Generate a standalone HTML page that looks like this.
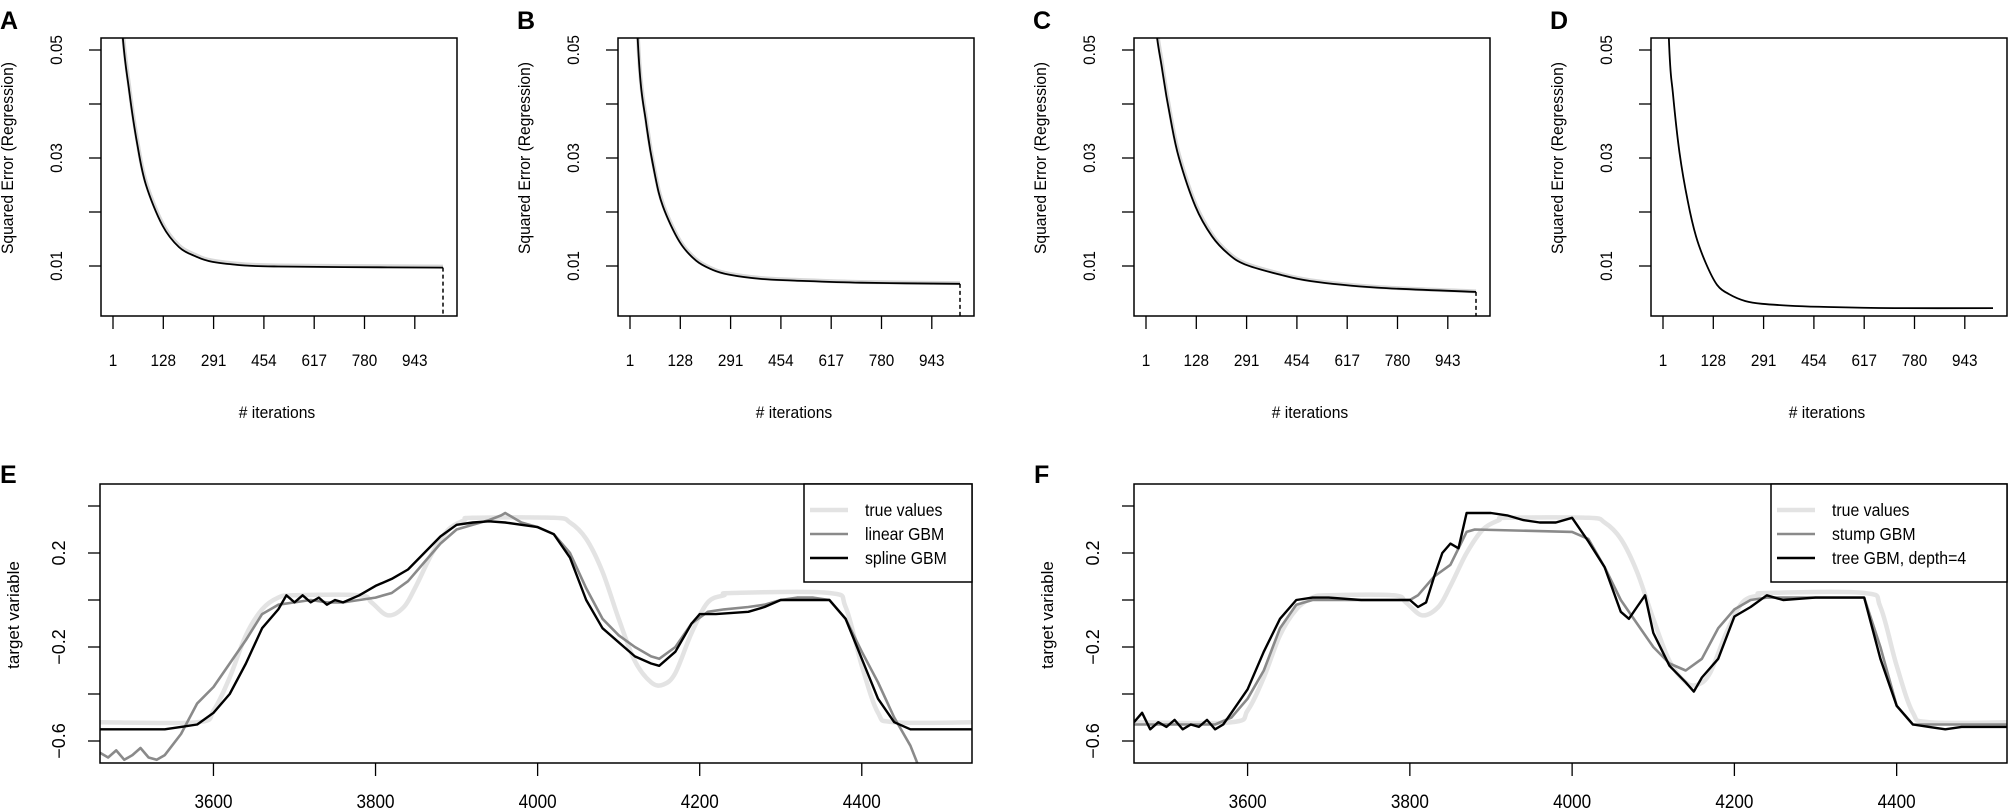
<!DOCTYPE html>
<html><head><meta charset="utf-8">
<style>
html,body{margin:0;padding:0;background:#fff;}
svg{display:block;font-family:"Liberation Sans",sans-serif;}
.tk{font-size:17px;fill:#000;}
</style></head>
<body>
<svg id="fig" width="2009" height="810" viewBox="0 0 2009 810" xmlns="http://www.w3.org/2000/svg"></svg>
<script>
// ---------- Panel A-D data (iterations vs squared error) ----------
const iterA = [0, 25, 50, 75, 100, 150, 200, 250, 300, 400, 500, 700, 1000];
const errA  = [0.09, 0.056, 0.042, 0.032, 0.025, 0.0175, 0.0135, 0.0118, 0.0108, 0.0101, 0.0099, 0.0098, 0.0097];
const iterB = [0, 25, 50, 75, 100, 150, 200, 250, 300, 400, 500, 700, 1000];
const errB  = [0.09, 0.05, 0.036, 0.027, 0.021, 0.0145, 0.011, 0.0093, 0.0084, 0.0076, 0.0073, 0.0069, 0.0067];
const iterC = [0, 25, 50, 75, 100, 150, 200, 250, 300, 400, 500, 700, 1000];
const errC  = [0.09, 0.058, 0.046, 0.037, 0.030, 0.021, 0.0155, 0.0122, 0.0103, 0.0085, 0.0072, 0.006, 0.0052];
const iterD = [0, 18, 30, 50, 75, 100, 130, 164, 200, 250, 300, 400, 500, 700, 1000];
const errD  = [0.09, 0.052, 0.042, 0.031, 0.022, 0.0155, 0.0105, 0.0065, 0.0048, 0.0035, 0.003, 0.0026, 0.0024, 0.0022, 0.0022];
const iterTickLabels = ["1", "128", "291", "454", "617", "780", "943"];
const errTicks = [0.01, 0.02, 0.03, 0.04, 0.05];
const errTickLabels = ["0.01", "", "0.03", "", "0.05"];

// ---------- Panel E/F data ----------
const trueX = [3460,3580,3600,3620,3640,3660,3680,3700,3780,3795,3815,3835,3850,3870,3890,3910,3920,4020,4040,4060,4080,4100,4120,4140,4155,4170,4190,4210,4230,4240,4360,4380,4400,4420,4440,4540];
const trueY = [-0.52,-0.52,-0.47,-0.33,-0.15,-0.04,0.01,0.02,0.02,-0.01,-0.065,-0.03,0.06,0.2,0.3,0.34,0.35,0.35,0.33,0.26,0.12,-0.08,-0.26,-0.35,-0.36,-0.31,-0.14,-0.01,0.02,0.03,0.03,-0.03,-0.28,-0.48,-0.52,-0.52];
const linX = [3460,3470,3480,3490,3500,3510,3520,3530,3540,3560,3580,3600,3620,3640,3660,3680,3700,3720,3740,3760,3780,3800,3820,3840,3860,3880,3900,3920,3940,3955,3960,3980,4000,4020,4040,4060,4080,4100,4120,4140,4150,4170,4190,4210,4230,4260,4280,4300,4320,4340,4360,4380,4400,4420,4440,4460,4475];
const linY = [-0.65,-0.67,-0.64,-0.68,-0.66,-0.63,-0.67,-0.68,-0.66,-0.57,-0.44,-0.37,-0.27,-0.17,-0.06,-0.02,-0.01,0.0,-0.01,-0.01,0.0,0.01,0.03,0.08,0.16,0.24,0.30,0.32,0.34,0.36,0.37,0.33,0.31,0.28,0.20,0.05,-0.08,-0.15,-0.20,-0.24,-0.25,-0.20,-0.10,-0.05,-0.04,-0.03,-0.02,0.0,0.01,0.01,0.0,-0.08,-0.22,-0.35,-0.5,-0.62,-0.75];
const splX = [3460,3500,3540,3560,3580,3600,3620,3640,3660,3680,3690,3700,3710,3720,3730,3740,3750,3760,3780,3800,3820,3840,3860,3880,3900,3920,3940,3960,3980,4000,4020,4040,4060,4080,4100,4120,4140,4150,4170,4190,4200,4220,4260,4280,4300,4320,4360,4380,4400,4420,4440,4460,4540];
const splY = [-0.55,-0.55,-0.55,-0.54,-0.53,-0.48,-0.40,-0.27,-0.12,-0.04,0.02,-0.01,0.02,-0.01,0.01,-0.02,0.0,-0.01,0.02,0.06,0.09,0.13,0.20,0.27,0.32,0.33,0.335,0.33,0.32,0.31,0.28,0.18,0.0,-0.12,-0.18,-0.24,-0.27,-0.28,-0.22,-0.10,-0.06,-0.06,-0.05,-0.03,0.0,0.0,0.0,-0.08,-0.25,-0.42,-0.52,-0.55,-0.55];
const stumpX = [3460,3560,3580,3600,3620,3640,3660,3680,3800,3810,3830,3850,3870,3880,4000,4020,4040,4060,4080,4100,4120,4140,4160,4180,4200,4220,4240,4360,4380,4400,4420,4540];
const stumpY = [-0.53,-0.53,-0.50,-0.42,-0.30,-0.12,-0.02,0.0,0.0,0.02,0.10,0.15,0.29,0.30,0.29,0.26,0.14,0.0,-0.10,-0.20,-0.27,-0.30,-0.25,-0.12,-0.04,0.0,0.01,0.01,-0.2,-0.45,-0.53,-0.53];
const treeX = [3460,3470,3480,3490,3500,3510,3520,3530,3540,3550,3560,3570,3580,3600,3620,3640,3660,3680,3700,3740,3780,3800,3810,3820,3830,3840,3850,3860,3870,3880,3900,3920,3940,3960,3980,4000,4020,4040,4060,4070,4080,4090,4100,4120,4140,4150,4160,4180,4200,4220,4240,4260,4300,4360,4380,4400,4420,4440,4460,4480,4540];
const treeY = [-0.52,-0.48,-0.55,-0.52,-0.54,-0.51,-0.55,-0.53,-0.54,-0.51,-0.55,-0.53,-0.48,-0.38,-0.22,-0.08,0.0,0.01,0.01,0.0,0.0,0.0,-0.03,-0.01,0.1,0.20,0.24,0.22,0.37,0.37,0.37,0.36,0.34,0.33,0.33,0.35,0.25,0.14,-0.05,-0.08,-0.03,0.02,-0.14,-0.28,-0.35,-0.39,-0.33,-0.25,-0.07,-0.03,0.02,0.0,0.01,0.01,-0.25,-0.45,-0.53,-0.54,-0.55,-0.54,-0.54];
const tvTicks = [-0.6, -0.4, -0.2, 0, 0.2, 0.4];
const tvTickLabels = ["\u22120.6", "", "\u22120.2", "", "0.2", ""];
const posTicks = [3600, 3800, 4000, 4200, 4400];

const NS = "http://www.w3.org/2000/svg";
const svg = document.getElementById("fig");
function mk(tag, attrs, parent) {
  const e = document.createElementNS(NS, tag);
  for (const k in attrs) e.setAttribute(k, attrs[k]);
  (parent || svg).appendChild(e);
  return e;
}
function pathFrom(xs, ys, sx, sy) {
  let d = "";
  for (let i = 0; i < xs.length; i++) d += (i ? "L" : "M") + sx(xs[i]).toFixed(1) + "," + sy(ys[i]).toFixed(1);
  return d;
}
// monotone-ish smooth curve (Catmull-Rom with clamped tangents)
function smoothFrom(xs, ys, sx, sy) {
  const P = xs.map((x, i) => [sx(x), sy(ys[i])]);
  let d = "M" + P[0][0].toFixed(1) + "," + P[0][1].toFixed(1);
  for (let i = 0; i < P.length - 1; i++) {
    const p0 = P[Math.max(0, i - 1)], p1 = P[i], p2 = P[i + 1], p3 = P[Math.min(P.length - 1, i + 2)];
    const c1 = [p1[0] + (p2[0] - p0[0]) / 6, p1[1] + (p2[1] - p0[1]) / 6];
    const c2 = [p2[0] - (p3[0] - p1[0]) / 6, p2[1] - (p3[1] - p1[1]) / 6];
    d += "C" + c1[0].toFixed(1) + "," + c1[1].toFixed(1) + " " + c2[0].toFixed(1) + "," + c2[1].toFixed(1) + " " + p2[0].toFixed(1) + "," + p2[1].toFixed(1);
  }
  return d;
}

// ---------- Error panels ----------
const errPanels = [
  {letter:"A", left:101, it:iterA, er:errA, dashed:true, ghost:true},
  {letter:"B", left:618, it:iterB, er:errB, dashed:true, ghost:true},
  {letter:"C", left:1134, it:iterC, er:errC, dashed:true, ghost:true},
  {letter:"D", left:1651, it:iterD, er:errD, dashed:false, ghost:false}
];
errPanels.forEach((p, pi) => {
  const L = p.left, R = L + 356, T = 38, B = 316;
  const g = mk("g", {});
  
  
  const sx = i => L + 12 + i * 0.33;
  const sy = v => 266 - (v - 0.01) * 5400;
  const cid = "clip" + p.letter;
  const cp = mk("clipPath", {id: cid}, g);
  mk("rect", {x: L, y: T, width: R - L, height: B - T}, cp);
  const lt = mk("text", {x: L - 101, y: 29, "font-size": 25, "font-weight": "bold"}, g);
  lt.textContent = p.letter;
  
  
  if (p.ghost) {
    const gh = mk("path", {d: smoothFrom(p.it, p.er.map(v => v * 1.02), sx, sy), fill: "none", stroke: "#d8d8d8", "stroke-width": 4, "clip-path": "url(#" + cid + ")"}, g);
    
    
  }
  const ln = mk("path", {d: smoothFrom(p.it, p.er, sx, sy), fill: "none", stroke: "#000", "stroke-width": 1.8, "clip-path": "url(#" + cid + ")"}, g);
  
  
  if (p.dashed) {
    const last = p.it.length - 1;
    const dl = mk("line", {x1: sx(p.it[last]), x2: sx(p.it[last]), y1: sy(p.er[last]), y2: B, stroke: "#000", "stroke-width": 1.5, "stroke-dasharray": "4,3"}, g);
    
    
  }
  const box = mk("rect", {x: L, y: T, width: R - L, height: B - T, fill: "none", stroke: "#000", "stroke-width": 1.5}, g);
  
  
  errTicks.forEach((v, i) => {
    const y = sy(v);
    mk("line", {x1: L - 12, x2: L, y1: y, y2: y, stroke: "#000", "stroke-width": 1.3}, g);
    if (errTickLabels[i]) {
      const t = mk("text", {class: "tk", "text-anchor": "middle", transform: "translate(" + (L - 39) + "," + y + ") rotate(-90) scale(0.9,1)"}, g);
      t.textContent = errTickLabels[i];
      
      
    }
  });
  iterTickLabels.forEach((lab, k) => {
    const x = L + 12 + k * 50.3;
    mk("line", {x1: x, x2: x, y1: B, y2: B + 13, stroke: "#000", "stroke-width": 1.3}, g);
    const t = mk("text", {class: "tk", "text-anchor": "middle", transform: "translate(" + x + ",366) scale(0.9,1)"}, g);
    t.textContent = lab;
    
    
  });
  const xt = mk("text", {class: "tk", "text-anchor": "middle", transform: "translate(" + (L + 176) + ",418) scale(0.92,1)"}, g);
  xt.textContent = "# iterations";
  
  
  const yt = mk("text", {class: "tk", "text-anchor": "middle", transform: "translate(" + (L - 88) + ",158) rotate(-90) scale(0.92,1)"}, g);
  yt.textContent = "Squared Error (Regression)";
  
  
});

// ---------- Target variable panels ----------
const tvPanels = [
  {letter:"E", left:100, right:972, series:[[trueX,trueY],[linX,linY],[splX,splY]], names:["true values","linear GBM","spline GBM"], legL:804},
  {letter:"F", left:1134, right:2007, series:[[trueX,trueY],[stumpX,stumpY],[treeX,treeY]], names:["true values","stump GBM","tree GBM, depth=4"], legL:1771}
];
const seriesStyle = [{c:"#e3e3e3", w:4.5}, {c:"#8a8a8a", w:2.6}, {c:"#000", w:2.4}];
tvPanels.forEach(p => {
  const L = p.left, R = p.right, T = 484, B = 763;
  const g = mk("g", {});
  
  
  const x0 = 3460, x1 = 4536;
  const sx = v => L + (v - x0) / (x1 - x0) * (R - L);
  const sy = v => 600 - v * 235;
  const cid = "clip" + p.letter;
  const cp = mk("clipPath", {id: cid}, g);
  mk("rect", {x: L, y: T, width: R - L, height: B - T}, cp);
  const lt = mk("text", {x: L - 100, y: 483, "font-size": 25, "font-weight": "bold"}, g);
  lt.textContent = p.letter;
  
  
  p.series.forEach((s, i) => {
    const d = i === 0 ? smoothFrom(s[0], s[1], sx, sy) : pathFrom(s[0], s[1], sx, sy);
    const ln = mk("path", {d: d, fill: "none", stroke: seriesStyle[i].c, "stroke-width": seriesStyle[i].w, "stroke-linejoin": "round", "clip-path": "url(#" + cid + ")"}, g);
    
    
  });
  const box = mk("rect", {x: L, y: T, width: R - L, height: B - T, fill: "none", stroke: "#000", "stroke-width": 1.5}, g);
  
  
  tvTicks.forEach((v, i) => {
    const y = sy(v);
    mk("line", {x1: L - 12, x2: L, y1: y, y2: y, stroke: "#000", "stroke-width": 1.3}, g);
    if (tvTickLabels[i]) {
      const t = mk("text", {"font-size": 18, "text-anchor": "middle", transform: "translate(" + (L - 42) + "," + y + ") rotate(-90) translate(0,7)"}, g);
      t.textContent = tvTickLabels[i];
      
      
    }
  });
  posTicks.forEach(v => {
    const x = sx(v);
    mk("line", {x1: x, x2: x, y1: B, y2: B + 13, stroke: "#000", "stroke-width": 1.3}, g);
    const t = mk("text", {"font-size": 19, "text-anchor": "middle", transform: "translate(" + x + ",808) scale(0.9,1)"}, g);
    t.textContent = String(v);
    
    
  });
  const yt = mk("text", {"font-size": 17, "text-anchor": "middle", transform: "translate(" + (L - 81) + ",615) rotate(-90)"}, g);
  yt.textContent = "target variable";
  
  
  // legend
  const lg = mk("g", {}, g);
  
  
  mk("rect", {x: p.legL, y: T, width: R - p.legL, height: 98, fill: "#fff", stroke: "#000", "stroke-width": 1.5}, lg);
  p.names.forEach((n, i) => {
    const y = 510 + i * 24;
    const e = mk("g", {}, lg);
    
    
    mk("line", {x1: p.legL + 6, x2: p.legL + 44, y1: y, y2: y, stroke: seriesStyle[i].c, "stroke-width": seriesStyle[i].w}, e);
    const t = mk("text", {"font-size": 18, transform: "translate(" + (p.legL + 61) + "," + (y + 6) + ") scale(0.88,1)"}, e);
    t.textContent = n;
  });
});
</script>
</body></html>
